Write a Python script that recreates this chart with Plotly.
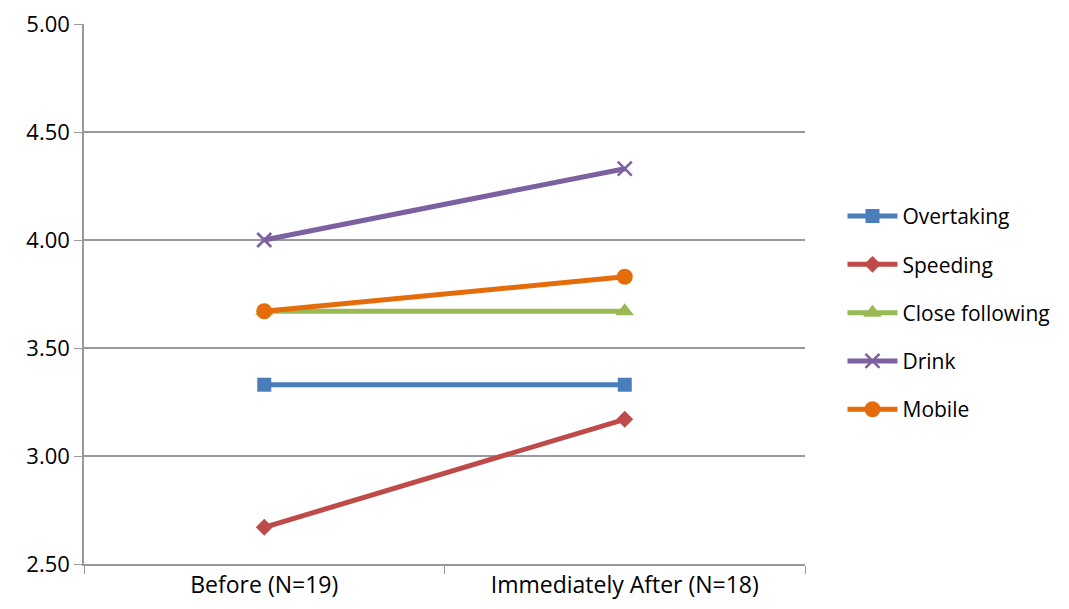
import plotly.graph_objects as go

categories = ["Before (N=19)", "Immediately After (N=18)"]
series_names = ["Overtaking", "Speeding", "Close following", "Drink", "Mobile"]
overtaking = [3.33, 3.33]
speeding = [2.67, 3.17]
close_following = [3.67, 3.67]
drink = [4.00, 4.33]
mobile = [3.67, 3.83]
y_ticks = [2.5, 3.0, 3.5, 4.0, 4.5, 5.0]

values = [overtaking, speeding, close_following, drink, mobile]
colors = ["#4A7EBB", "#BE4B48", "#98B954", "#7D60A0", "#E46C0A"]
symbols = ["square", "diamond", "triangle-up", "x-thin", "circle"]
sizes = [14, 13, 16, 14, 16]

fig = go.Figure()
for name, vals, c, s, sz in zip(series_names, values, colors, symbols, sizes):
    fig.add_trace(go.Scatter(
        x=categories, y=vals, name=name, mode="lines+markers",
        line=dict(color=c, width=5),
        marker=dict(symbol=s, size=sz, color=c, line=dict(color=c, width=2.5 if s == "x-thin" else 0)),
        legendgroup=name,
    ))

fig.update_layout(
    width=1061, height=601,
    margin=dict(l=76, r=264, t=16, b=45),
    paper_bgcolor="white", plot_bgcolor="white",
    font=dict(family="Open Sans, sans-serif", size=22, color="black"),
    showlegend=True,
    legend=dict(x=1.052, y=0.465, xanchor="left", yanchor="middle",
                font=dict(size=21), tracegroupgap=18, itemwidth=50,
                borderwidth=0),
    xaxis=dict(type="category", range=[-0.5, 1.5], tickson="boundaries",
               ticks="outside", ticklen=8, tickcolor="#999999",
               showline=True, linecolor="#999999", linewidth=1.5,
               showgrid=False, tickfont=dict(size=23), automargin=False,
               ticklabeloverflow="allow"),
    yaxis=dict(range=[2.5, 5.0], tickvals=y_ticks, tickformat=".2f",
               ticks="outside", ticklen=8, tickcolor="#999999",
               showline=True, linecolor="#999999", linewidth=1.5,
               showgrid=True, gridcolor="#999999", gridwidth=1.5,
               zeroline=False, tickfont=dict(size=22), automargin=False,
               ticklabeloverflow="allow"),
)

fig.write_html("out.html")
